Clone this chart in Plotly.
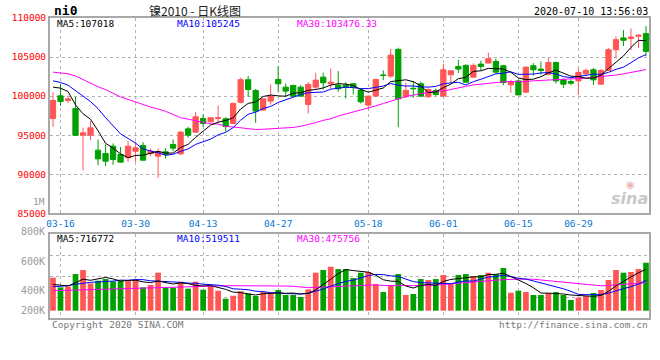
import plotly.graph_objects as go

# ---------------- data ----------------
dates = [
    "03-13", "03-16", "03-17", "03-18", "03-19", "03-20",
    "03-23", "03-24", "03-25", "03-26", "03-27",
    "03-30", "03-31", "04-01", "04-02", "04-03",
    "04-07", "04-08", "04-09", "04-10",
    "04-13", "04-14", "04-15", "04-16", "04-17",
    "04-20", "04-21", "04-22", "04-23", "04-24",
    "04-27", "04-28", "04-29", "04-30",
    "05-06", "05-07", "05-08",
    "05-11", "05-12", "05-13", "05-14", "05-15",
    "05-18", "05-19", "05-20", "05-21", "05-22",
    "05-25", "05-26", "05-27", "05-28", "05-29",
    "06-01", "06-02", "06-03", "06-04", "06-05",
    "06-08", "06-09", "06-10", "06-11", "06-12",
    "06-15", "06-16", "06-17", "06-18", "06-19",
    "06-22", "06-23", "06-24",
    "06-29", "06-30", "07-01", "07-02", "07-03",
    "07-06", "07-07", "07-08", "07-09", "07-10",
]

open_ = [97140, 100040, 99440, 98400, 95000, 95000, 93080, 92650, 93590, 92530,
         92100, 92950, 93680, 92650, 92310, 92870, 93810, 92610, 95810, 95390,
         97140, 96710, 97140, 97100, 96500, 99200, 102100, 100730, 98210, 99360,
         102135, 101150, 101370, 101150, 98930, 101150, 102430, 101580, 101410, 101410,
         101580, 100770, 98850, 100000, 102700, 102560, 105980, 99915, 101000, 101580,
         99915, 100730, 100000, 102730, 103800, 103930, 102430, 104100, 104230, 104440,
         103890, 101440, 101950, 100500, 103890, 103460, 102810, 104310, 102080, 101870,
         101950, 102850, 103370, 101530, 103290, 105940, 107450, 107360, 107660, 108000]
high = [100500, 101600, 100050, 99900, 95950, 96800, 94450, 93810, 93940, 93500,
        94240, 94150, 94100, 93300, 93300, 93380, 94450, 95520, 96070, 97950,
        97650, 97300, 98800, 97300, 99190, 102350, 102600, 100900, 99700, 101490,
        103840, 101620, 101450, 101410, 101790, 102990, 102990, 103540, 103200, 101790,
        101700, 100850, 100100, 102250, 103290, 106060, 106190, 101710, 101920, 101840,
        100980, 100980, 104140, 103300, 104660, 104100, 104200, 104530, 105560, 104790,
        104000, 102100, 102120, 103800, 104230, 104440, 104830, 104400, 102250, 102160,
        103540, 103540, 103600, 103450, 106150, 107660, 108440, 108660, 107900, 108960]
low = [96070, 98760, 99100, 94950, 90500, 94380, 91160, 91030, 91200, 91500,
       91590, 91590, 91750, 92310, 89540, 92010, 92950, 92440, 94660, 95300,
       96070, 96580, 96500, 95450, 96450, 99060, 99910, 96580, 98100, 98930,
       100555, 100000, 99900, 99900, 97780, 100850, 100850, 100940, 100555, 99700,
       100210, 99060, 98290, 99950, 102050, 102350, 96030, 99790, 99790, 99870,
       99790, 100000, 99900, 101650, 102940, 101740, 102400, 103300, 104230, 102900,
       101400, 100450, 100150, 100400, 102640, 102730, 102640, 101600, 101050, 101400,
       100150, 102700, 101440, 101450, 103290, 104830, 106410, 105900, 106150, 105120]
close = [99445, 99310, 99650, 94980, 95300, 95940, 91970, 91670, 91880, 91550,
         93590, 93380, 91800, 92950, 92910, 92530, 93340, 95390, 95000, 97350,
         96500, 97230, 97230, 96100, 99060, 102100, 100850, 98080, 99660, 100000,
         101580, 100640, 100000, 100000, 101490, 102050, 101710, 101790, 100940, 101150,
         101150, 99270, 100000, 102135, 102650, 105250, 99660, 100730, 100950, 100000,
         100850, 100210, 103370, 103240, 103460, 101780, 103930, 103800, 104790, 103070,
         101740, 101870, 100150, 103710, 103370, 103290, 104310, 101950, 101530, 101650,
         103030, 103290, 102080, 103290, 105940, 107230, 107150, 107570, 107790, 105730]

ma5 = [101150, 101020, 100590, 98880, 97740, 97040, 95570, 93970, 93350, 92600,
       92130, 92410, 92440, 92650, 92930, 92710, 92710, 93420, 93830, 94720,
       95520, 96290, 96660, 96880, 97220, 98340, 99070, 99240, 99950, 100140,
       100030, 99990, 100380, 100440, 100740, 100840, 101050, 101410, 101600, 101530,
       101350, 100860, 100500, 100740, 101040, 101860, 101940, 102090, 101850, 101320,
       100440, 100550, 101080, 101530, 102230, 102410, 103160, 103240, 103550, 103470,
       103470, 103050, 102320, 102110, 102170, 102480, 102970, 103330, 102890, 102550,
       102490, 102290, 102320, 102670, 103530, 104370, 105140, 106240, 107140, 107090]
ma10 = [101960, 101750, 101400, 100650, 100000, 99300, 98400, 97250, 96200, 95170,
        94580, 93990, 93210, 93000, 92760, 92420, 92560, 92930, 93240, 93820,
        94120, 94500, 95040, 95360, 95970, 96930, 97680, 97950, 98420, 98680,
        99190, 99530, 99810, 100200, 100440, 100440, 100520, 100890, 101020, 101140,
        101090, 100960, 100960, 101170, 101290, 101610, 101400, 101290, 101300, 101180,
        101150, 101240, 101580, 101690, 101770, 101430, 101850, 102160, 102540, 102850,
        102940, 103110, 102780, 102830, 102820, 102970, 103010, 102830, 102500, 102360,
        102490, 102630, 102820, 102780, 103040, 103430, 103710, 104280, 104900, 105310]
ma30 = [103070, 103000, 102860, 102580, 102100, 101650, 101200, 100830, 100370, 99900,
        99580, 99230, 98900, 98600, 98350, 98050, 97650, 97230, 97050, 96850,
        96560, 96450, 96420, 96120, 96050, 95940, 95760, 95730, 95760, 95820,
        95820, 95880, 95990, 96140, 96340, 96600, 96900, 97100, 97450, 97700,
        97950, 98210, 98450, 98750, 99050, 99380, 99720, 99950, 100150, 100310,
        100480, 100620, 100650, 100820, 101010, 101250, 101440, 101550, 101630, 101740,
        101830, 101860, 101850, 101860, 101960, 102000, 102040, 102080, 102120, 102170,
        102230, 102300, 102400, 102480, 102550, 102700, 102850, 103050, 103260, 103400]

# volume in thousands of lots
volume_k = [568, 402, 413, 631, 700, 470, 516, 545, 505, 516,
            528, 528, 402, 442, 654, 402, 396, 499, 379, 499,
            361, 425, 344, 207, 258, 333, 298, 252, 321, 298,
            356, 270, 270, 235, 367, 654, 700, 757, 717, 717,
            562, 654, 666, 459, 321, 442, 631, 270, 287, 545,
            528, 545, 614, 459, 614, 631, 597, 614, 654, 631,
            734, 310, 344, 321, 270, 270, 304, 321, 270, 184,
            224, 252, 304, 356, 528, 700, 654, 666, 717, 826]
vma5_k = [453, 442, 425, 482, 542.8, 523.2, 546, 572.4, 547.2, 510.4,
          522, 524.4, 495.8, 483.2, 510.8, 485.6, 459.2, 478.6, 466, 435,
          426.8, 432.6, 401.6, 367.2, 319, 313.4, 288, 269.6, 292.4, 300.4,
          305, 299.4, 303, 285.8, 299.6, 359.2, 445.2, 542.6, 639, 709,
          690.6, 681.4, 663.2, 611.6, 532.4, 508.4, 503.8, 424.6, 390.2, 435,
          452.2, 435, 503.8, 538.2, 552, 572.6, 583, 583, 622, 625.4,
          646, 588.6, 534.6, 468, 395.8, 303, 301.8, 297.2, 287, 269.8,
          260.6, 250.2, 246.8, 264, 332.8, 428, 508.4, 580.8, 653, 712.6]
vma10_k = [413, 420, 430, 455, 475, 488, 495, 500, 510, 526.6,
           522.6, 535.2, 534.1, 515.2, 510.6, 503.8, 491.8, 487.2, 474.6, 472.9,
           456.2, 445.9, 440.1, 416.6, 377, 370.1, 360.3, 335.6, 329.8, 309.7,
           309.2, 293.7, 286.3, 289.1, 300, 332.1, 372.3, 422.8, 462.4, 504.3,
           524.9, 563.3, 602.9, 625.3, 620.7, 599.5, 592.6, 543.9, 500.9, 483.7,
           480.3, 469.4, 464.2, 464.2, 493.5, 512.4, 509, 543.4, 580.1, 588.7,
           609.3, 585.8, 558.8, 545, 510.6, 474.5, 445.2, 415.9, 377.5, 332.8,
           281.8, 276, 272, 275.5, 301.3, 344.3, 379.3, 413.8, 458.5, 522.7]
vma30_k = [344, 348, 352, 356, 360, 365, 370, 375, 380, 385,
           390, 394, 398, 402, 406, 410, 414, 418, 422, 426,
           430, 430, 430, 430, 430, 430, 430, 432, 434, 436.4,
           429.3, 424.9, 420.2, 407, 395.9, 402, 408.1, 415.2, 422.3, 429,
           430.1, 434.3, 443.1, 443.7, 432.6, 433.9, 441.7, 434.1, 431, 432.6,
           438.1, 442.1, 451.1, 459.5, 471.4, 481.3, 491.3, 503.4, 514.5, 525.6,
           538.2, 539.5, 542, 544.8, 541.6, 528.8, 515.6, 501.1, 486.2, 468.4,
           457.1, 443.7, 431.7, 428.2, 435.1, 443.7, 444.5, 457.7, 472, 481.4]

tick_dates = ["03-16", "03-30", "04-13", "04-27", "05-18", "06-01", "06-15", "06-29"]
price_ticks = [85000, 90000, 95000, 100000, 105000, 110000]
vol_labels = ["800K", "600K", "400K", "200K"]

title_text = "镍2010 - 日K线图"
code_text = "ni0"
time_text = "2020-07-10 13:56:03"
ma_labels = ["MA5:107018", "MA10:105245", "MA30:103476.33"]
vma_labels = ["MA5:716772", "MA10:519511", "MA30:475756"]

# ---------------- style ----------------
RED = "#ff5555"
GREEN = "#00a000"
GRID = "#b4b4b4"
FRAME = "#a8a8a8"
MONO = "DejaVu Sans Mono"
x = list(range(len(dates)))

fig = go.Figure()
fig.add_trace(go.Candlestick(
    x=x, open=open_, high=high, low=low, close=close,
    xaxis="x", yaxis="y",
    increasing=dict(line=dict(color=RED, width=1), fillcolor=RED),
    decreasing=dict(line=dict(color=GREEN, width=1), fillcolor=GREEN),
    whiskerwidth=0, hoverinfo="skip", showlegend=False))
for vals, col in [(ma30, "#ff00ff"), (ma10, "#0000ff"), (ma5, "#000000")]:
    fig.add_trace(go.Scatter(x=x, y=vals, mode="lines", xaxis="x", yaxis="y",
                             line=dict(color=col, width=1), hoverinfo="skip",
                             showlegend=False))

bar_colors = [RED if c >= o else GREEN for o, c in zip(open_, close)]
fig.add_trace(go.Bar(x=x, y=volume_k, xaxis="x2", yaxis="y2", width=0.76,
                     marker=dict(color=bar_colors, line=dict(width=0)),
                     hoverinfo="skip", showlegend=False))
for vals, col in [(vma30_k, "#ff00ff"), (vma10_k, "#0000ff"), (vma5_k, "#000000")]:
    fig.add_trace(go.Scatter(x=x, y=vals, mode="lines", xaxis="x2", yaxis="y2",
                             line=dict(color=col, width=1), hoverinfo="skip",
                             showlegend=False))

# geometry (pixels)
W, H = 660, 360
ML, MR, MT, MB = 50, 11, 18, 42
PW, PH = W - ML - MR, H - MT - MB


def px(xp):
    return (xp - ML) / PW


def py(yp):
    return (H - MB - yp) / PH


main_bottom = py(213.3)
vol_top = py(234.3)
vlo, vhi = -125.7, 1315.0
vgrid = [vlo + (vhi - vlo) * k / 4 for k in (1, 2, 3)]

tickpos = [dates.index(d) for d in tick_dates]

common_x = dict(range=[-0.4, len(dates) - 0.6], showgrid=True, gridcolor=GRID,
                griddash="dot", gridwidth=1, showline=True, linecolor=FRAME,
                linewidth=2, mirror=True, zeroline=False, ticks="",
                tickvals=tickpos, ticktext=tick_dates, automargin=False)

fig.update_layout(
    width=W, height=H,
    margin=dict(l=ML, r=MR, t=MT, b=MB, pad=0, autoexpand=False),
    paper_bgcolor="white", plot_bgcolor="white",
    showlegend=False, hovermode=False,
    boxgap=0.3, boxgroupgap=0,
    font=dict(family=MONO, size=10, color="#000"),
    xaxis=dict(domain=[0, 1], anchor="y", rangeslider=dict(visible=False),
               tickfont=dict(family=MONO, size=9.5, color="#0a78d2"),
               **common_x),
    yaxis=dict(domain=[main_bottom, 1], range=[85000, 110000], tickvals=price_ticks,
               tickformat="d", tickfont=dict(family=MONO, size=9.5, color="#ff0000"),
               showgrid=True, gridcolor=GRID, griddash="dot", gridwidth=1,
               showline=True, linecolor=FRAME, linewidth=2, mirror=True,
               zeroline=False, ticks="", automargin=False),
    xaxis2=dict(domain=[0, 1], anchor="y2", matches="x", showticklabels=False,
                **common_x),
    yaxis2=dict(domain=[0, vol_top], range=[vlo, vhi], tickvals=vgrid,
                showticklabels=False, showgrid=True, gridcolor=GRID, griddash="dot",
                gridwidth=1, showline=True, linecolor=FRAME, linewidth=2,
                mirror=True, zeroline=False, ticks="", automargin=False),
)


def ann(text, xp, yp, color="#000", size=9.5, anchor="left", family=MONO, **kw):
    fig.add_annotation(text=text, x=px(xp), y=py(yp), xref="paper", yref="paper",
                       xanchor=anchor, yanchor="middle", showarrow=False,
                       font=dict(family=family, size=size, color=color), **kw)


ann("<b>" + code_text + "</b>", 52, 11, size=13)
ann(title_text, 195, 10.5, size=12, anchor="center", family="Noto Sans CJK SC",
    color="#222")
ann(time_text, 650, 12, size=10, anchor="right")
ann(ma_labels[0], 55, 23.5, color="#000")
ann(ma_labels[1], 175, 23.5, color="#0000ff")
ann(ma_labels[2], 295, 23.5, color="#ff00ff")
ann("1M", 47, 201, color="#999999", anchor="right")
ann(vma_labels[0], 55, 238.5, color="#000")
ann(vma_labels[1], 175, 238.5, color="#0000ff")
ann(vma_labels[2], 295, 238.5, color="#ff00ff")
for lbl, yp in zip(vol_labels, [231, 261.7, 290.7, 310]):
    ann(lbl, 47, yp, color="#9a9a9a", anchor="right", size=10)
ann("Copyright 2020 SINA.COM", 50, 324, color="#777777")
ann("http://finance.sina.com.cn", 650, 324, color="#777777", anchor="right")
ann("<b><i>sina</i></b>", 650, 198, color="#c8c8c8", anchor="right", size=16,
    family="DejaVu Sans")
ann("◉", 630, 184, color="#e8b4b4", anchor="center", size=10, family="DejaVu Sans")

fig.write_html(
    "out.html",
    config={"displayModeBar": False, "staticPlot": True},
    post_script="document.body.style.margin='0px';"
                "document.body.style.overflow='hidden';",
)
